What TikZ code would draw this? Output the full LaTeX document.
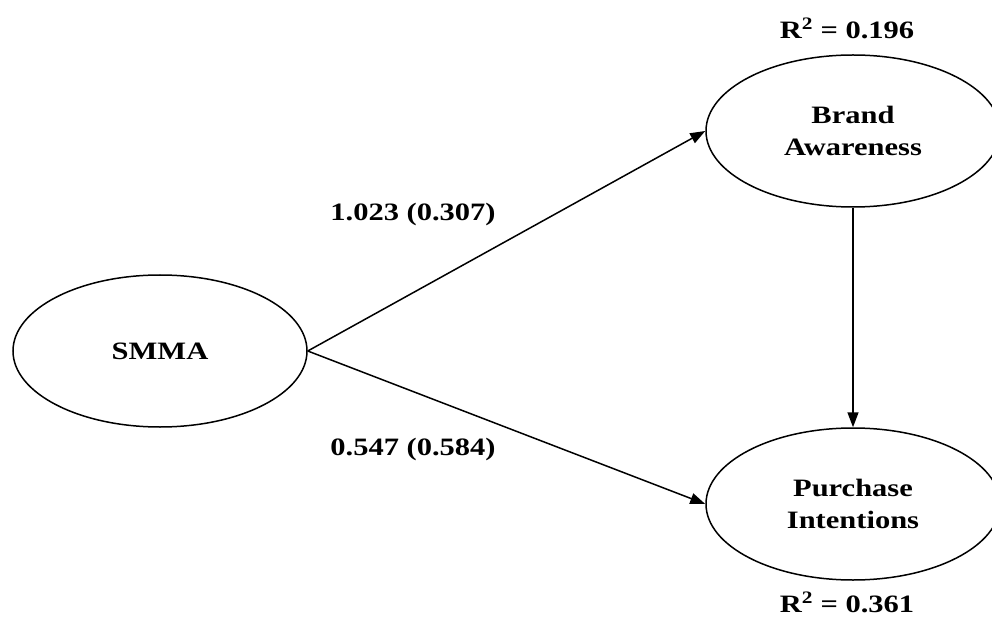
\documentclass[tikz,border=0pt]{standalone}
\usepackage{fontspec}
\setmainfont{Liberation Serif}[FakeStretch=1.22]
\usetikzlibrary{shapes.geometric,arrows.meta}
\tikzset{
  construct/.style={draw, ellipse, line width=1.5pt, minimum width=294pt, minimum height=152pt, inner sep=0pt, align=center, font=\fontsize{25}{32}\selectfont\bfseries},
  lbl/.style={font=\fontsize{25}{28}\selectfont\bfseries, inner sep=0pt},
  path/.style={line width=1.5pt, -{Triangle[length=15pt,width=11pt]}}
}
\begin{document}
\begin{tikzpicture}[x=1pt,y=-1pt]
\useasboundingbox (0,0) rectangle (992,617);
\node[construct] (smma) at (160,351) {SMMA};
\node[construct] (ba) at (853,131) {Brand\\Awareness};
\node[construct] (pi) at (853,504) {Purchase\\Intentions};
\draw[path] (smma.east) -- (ba.west);
\draw[path] (smma.east) -- (pi.west);
\draw[path] (ba.south) -- (pi.north);
\node[lbl] (l1) at (413,214) {1.023 (0.307)};
\node[lbl] (l2) at (413,449) {0.547 (0.584)};
\node[lbl] (r1) at (847,28) {R\textsuperscript{2} = 0.196};
\node[lbl] (r2) at (847,602) {R\textsuperscript{2} = 0.361};
\end{tikzpicture}
\end{document}
